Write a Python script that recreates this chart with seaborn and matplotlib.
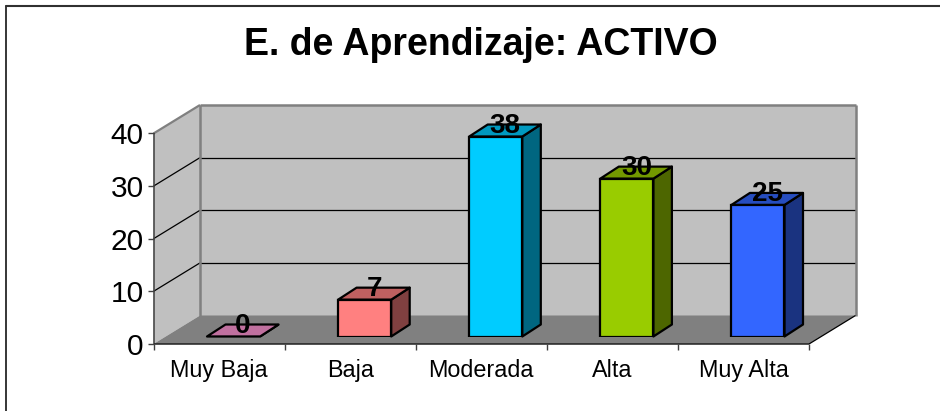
import matplotlib
matplotlib.use("Agg")
import matplotlib.pyplot as plt
import pandas as pd
import seaborn as sns
from matplotlib.patches import Polygon

categorias = ["Muy Baja", "Baja", "Moderada", "Alta", "Muy Alta"]
valores = [0, 7, 38, 30, 25]
colores = ["#C0709F", "#FF8080", "#00CCFF", "#99CC00", "#3366FF"]
colores_top = ["#C0709F", "#BF6060", "#0099BF", "#739900", "#264DBF"]
colores_lado = ["#804A6A", "#804040", "#006680", "#4D6600", "#1A3380"]
ticks_y = [0, 10, 20, 30, 40]

sns.set_theme(style="white")
plt.rcParams["font.family"] = ["Liberation Sans", "DejaVu Sans"]

W, H = 940, 411
x0, x1 = 153.5, 809.0   # front plane, px
y0, y40 = 344.0, 133.5


def caja(x_a, x_b, y_a, y_b):
    return [x_a / W, 1 - y_b / H, (x_b - x_a) / W, (y_b - y_a) / H]


df = pd.DataFrame({"cat": categorias, "val": valores})
fig = plt.figure(figsize=(W / 100, H / 100), dpi=100)
fig.patch.set_facecolor("white")

# outer frame, only top and left are inside the crop
fig.add_artist(plt.Line2D([6 / W, 6 / W], [0, 1 - 6.5 / H], color="black", lw=1.1))
fig.add_artist(plt.Line2D([5.5 / W, 1], [1 - 6.5 / H, 1 - 6.5 / H], color="#303030", lw=1.5))

# axis of the front plane: holds ticks and labels
ax = fig.add_axes(caja(x0, x1, y40, y0))
ax.set_facecolor("none")
sns.barplot(x="cat", y="val", data=df, ax=ax, alpha=0)
ax.set_xlim(-0.5, 4.5)
ax.set_ylim(0, 40)
ax.set_xlabel("")
ax.set_ylabel("")
ax.set_yticks(ticks_y)
ax.tick_params(axis="y", labelsize=21.5, length=0, pad=7, colors="black")
ax.tick_params(axis="x", labelsize=16.8, length=0, pad=11, colors="black")
for s in ax.spines.values():
    s.set_visible(False)

px = (x1 - x0) / 5
py = (y0 - y40) / 40
dx = 46.5 / px
dy = 28.5 / py


def poly(pts, fc, ec="none", lw=0, z=1):
    ax.add_patch(Polygon(pts, closed=True, facecolor=fc, edgecolor=ec, lw=lw, clip_on=False, zorder=z))


def linea(xs, ys, c="black", lw=0.9, z=2):
    ax.plot(xs, ys, color=c, lw=lw, clip_on=False, zorder=z, solid_capstyle="butt")


izq, der = -0.5, 4.5
# walls and floor
poly([(izq + dx, dy), (der + dx, dy), (der + dx, 40 + dy), (izq + dx, 40 + dy)], "#C0C0C0")
poly([(izq, 0), (izq + dx, dy), (izq + dx, 40 + dy), (izq, 40)], "#C0C0C0")
poly([(izq, 0), (der, 0), (der + dx, dy), (izq + dx, dy)], "#808080")

for t in ticks_y[1:-1]:
    linea([izq, izq + dx], [t, t + dy])
    linea([izq + dx, der + dx], [t + dy, t + dy])
linea([izq, izq + dx], [40, 40 + dy], "#808080", 1.6)
linea([izq + dx, der + dx], [40 + dy, 40 + dy], "#808080", 1.8)
linea([izq + dx, izq + dx], [dy, 40 + dy], "#808080", 1.8)
linea([der + dx, der + dx], [dy, 40 + dy], "#808080", 1.8)
linea([der, der + dx], [0, dy], "black", 0.9)

# axis lines and tick marks
linea([izq, izq], [0, 40], "#404040", 1.1, 3)
linea([izq, der], [0, 0], "#202020", 1.1, 3)
for t in ticks_y:
    linea([izq - 6 / px, izq], [t, t], "#404040", 1.0, 3)
for i in range(6):
    linea([izq + i, izq + i], [0, -6 / py], "#404040", 1.0, 3)

# front faces of the bars, shifted into the floor
ax_b = fig.add_axes(caja(x0 + 14.5, x1 + 14.5, y40 - 7.5, y0 - 7.5))
ax_b.patch.set_visible(False)
ax_b.axis("off")
sns.barplot(x="cat", y="val", data=df, hue="cat", palette=colores, legend=False, ax=ax_b,
            width=0.405, saturation=1, edgecolor="black", linewidth=1.6, zorder=4)
ax_b.set_xlim(-0.5, 4.5)
ax_b.set_ylim(0, 40)

ddx = 18.5 / px
ddy = 12 / py
for barra, v, c_top, c_lado in zip(ax_b.patches, valores, colores_top, colores_lado):
    a = barra.get_x()
    b = a + barra.get_width()
    for pts, fc in [([(b, 0), (b + ddx, ddy), (b + ddx, v + ddy), (b, v)], c_lado),
                    ([(a, v), (b, v), (b + ddx, v + ddy), (a + ddx, v + ddy)], c_top)]:
        ax_b.add_patch(Polygon(pts, closed=True, facecolor=fc, edgecolor="black", lw=1.6,
                               joinstyle="round", clip_on=False, zorder=3))
    ax_b.text(a + barra.get_width() / 2 + 9.5 / px, v + 11 / py, str(v), ha="center", va="center",
              fontsize=20, fontweight="bold", color="black", zorder=6)

fig.text(481 / W, 1 - 55 / H, "E. de Aprendizaje: ACTIVO", ha="center", va="baseline",
         fontsize=27, fontweight="bold", color="black")

fig.savefig("out.png", dpi=100)
